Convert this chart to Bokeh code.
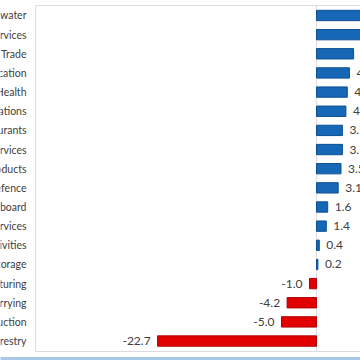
from bokeh.plotting import figure
from bokeh.models import Range1d, ColumnDataSource
from bokeh.core.properties import value
from bokeh.embed import file_html
from bokeh.resources import INLINE

# Category labels as visible (cropped) in the reference, top to bottom
categories = ["water", "ervices", "Trade", "cation", "Health", "ations",
              "urants", "ervices", "oducts", "efence", "board", "rvices",
              "tivities", "torage", "turing", "rrying", "uction", "orestry"]
values = [7.5, 6.8, 5.3, 4.7, 4.4, 4.2, 3.7, 3.7, 3.5, 3.1, 1.6, 1.4,
          0.4, 0.2, -1.0, -4.2, -5.0, -22.7]

rows = list(range(len(categories)))
pos_color = "#1767b7"
pos_edge = "#0c4f93"
neg_color = "#e20000"
neg_edge = "#b00000"

src = ColumnDataSource(dict(
    y=rows,
    v=values,
    cat=categories,
    fill=[pos_color if v >= 0 else neg_color for v in values],
    edge=[pos_edge if v >= 0 else neg_edge for v in values],
    labx=[-41.43] * len(rows),
))
pos_src = ColumnDataSource(dict(
    y=[r for r, v in zip(rows, values) if v >= 0],
    v=[v for v in values if v >= 0],
    lab=[f"{v:.1f}" for v in values if v >= 0]))
neg_src = ColumnDataSource(dict(
    y=[r for r, v in zip(rows, values) if v < 0],
    v=[v for v in values if v < 0],
    lab=[f"{v:.1f}" for v in values if v < 0]))

p = figure(width=360, height=360, output_backend="svg", toolbar_location=None,
           x_range=Range1d(-45.143, 6.286), y_range=Range1d(18.016, -0.783),
           min_border_left=0, min_border_right=0, min_border_top=0, min_border_bottom=0)
p.axis.visible = False
p.grid.visible = False
p.outline_line_color = None
p.background_fill_color = "white"
p.border_fill_color = "white"

# plot-area box
p.quad(left=[-40.14], right=[8.0], top=[-0.522], bottom=[17.546],
       fill_color=None, line_color="#d9dde3", line_width=1)
# zero line
p.segment(x0=[0], x1=[0], y0=[-0.522], y1=[17.546], line_color="#d9dde3", line_width=1)
# bottom blue strip
p.quad(left=[-46.0], right=[8.0], top=[17.833], bottom=[18.1],
       fill_color="#a9c7e7", line_color=None)

# bars
p.hbar(y="y", left=0, right="v", height=0.54, source=src,
       fill_color="fill", line_color="edge", line_width=1)

# category labels
p.text(x="labx", y="y", text="cat", source=src, text_align="right",
       text_baseline="middle", text_font=value("Lato"), text_font_size="10.5px",
       text_color="#404040")
# value labels
p.text(x="v", y="y", text="lab", source=pos_src, x_offset=7, text_align="left",
       text_baseline="middle", text_font=value("Lato"), text_font_size="12px",
       text_color="#404040")
p.text(x="v", y="y", text="lab", source=neg_src, x_offset=-7, text_align="right",
       text_baseline="middle", text_font=value("Lato"), text_font_size="12px",
       text_color="#404040")

open("out.html", "w").write(file_html(p, INLINE))
